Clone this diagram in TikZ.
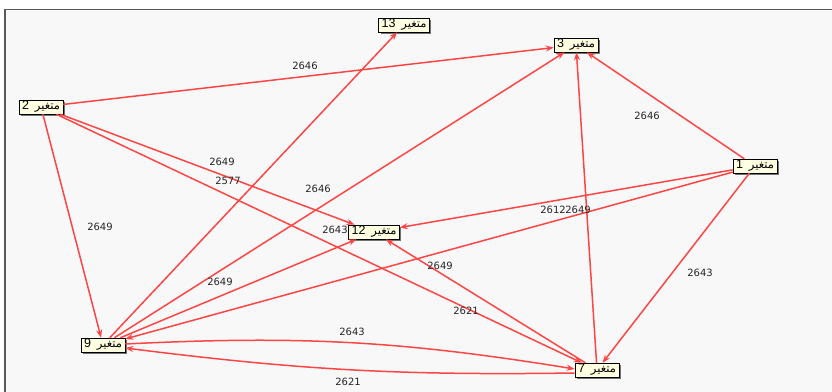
\documentclass[tikz,border=0pt]{standalone}
\usepackage{fontspec}
\usetikzlibrary{arrows.meta}
\usetikzlibrary{shadows}
\setmainfont{Liberation Sans}
\newfontfamily\arabicfont[Script=Arabic]{DejaVu Sans}
\newfontfamily\labelfont{DejaVu Sans}
\TeXXeTstate=1
\definecolor{linkred}{RGB}{252,70,70}
\definecolor{boxfill}{RGB}{255,255,225}
\definecolor{framebg}{RGB}{248,248,248}
\newcommand{\var}[1]{{\fontsize{12.5}{12}\selectfont #1}\hspace{6pt}{\arabicfont\fontsize{11.5}{11}\selectfont\beginR متغير\endR}}

\begin{document}
\begin{tikzpicture}[x=1pt,y=1pt,
    var/.style={draw=black,line width=0.6pt,fill=boxfill,inner xsep=3pt,inner ysep=1.2pt,
      drop shadow={shadow xshift=2pt,shadow yshift=-2pt,fill=black!55,opacity=1}},
    link/.style={draw=linkred,line width=1.5pt,-{Stealth[length=8pt,width=6pt]}},
    lbl/.style={font=\labelfont\fontsize{10}{10}\selectfont,text=black!85,inner sep=1pt}]
      \clip (0,0) rectangle (832,391);
      \fill[white] (0,0) rectangle (832,391);
      \draw[black!65,line width=1.2pt,fill=framebg] (5,-10) rectangle (845,381.5);

      \node[var] (n13) at (404,366) {\var{13}};
      \node[var] (n3) at (576,346) {\var{3}};
      \node[var] (n2) at (41,284) {\var{2}};
      \node[var] (n1) at (755,225) {\var{1}};
      \node[var] (n12) at (374,159) {\var{12}};
      \node[var] (n9) at (103,46) {\var{9}};
      \node[var] (n7) at (597,21) {\var{7}};

      \draw[link] (n2) -- (n3);
      \draw[link] (n2) -- (n9);
      \draw[link] (n2) -- (n12);
      \draw[link] (n2) -- (n7);
      \draw[link] (n9) -- (n13);
      \draw[link] (n9) -- (n3);
      \draw[link] (n9) -- (n12);
      \draw[link] (n1) -- (n3);
      \draw[link] (n1) -- (n12);
      \draw[link] (n1) -- (n9);
      \draw[link] (n1) -- (n7);
      \draw[link] (n7) -- (n3);
      \draw[link] (n7) -- (n12);
      \draw[link] ([yshift=1pt]n9.east) to[bend left=6] ([yshift=1pt]n7.west);
      \draw[link] ([yshift=-3pt]n7.west) to[bend left=4] ([yshift=-3pt]n9.east);

      \node[lbl] (l23) at (305,325) {2646};
      \node[lbl] (l13) at (647,275) {2646};
      \node[lbl] (l29) at (100,164) {2649};
      \node[lbl] (l212) at (222,229) {2649};
      \node[lbl] (l27) at (335,161) {2643};
      \node[lbl] (l913) at (228,210) {2577};
      \node[lbl] (l93) at (318,202) {2646};
      \node[lbl] (l912) at (220,109) {2649};
      \node[lbl] (l112) at (553,181) {2612};
      \node[lbl] (l19) at (440,125) {2649};
      \node[lbl] (l17) at (700,118) {2643};
      \node[lbl] (l73) at (578,181) {2649};
      \node[lbl] (l712) at (466,80) {2621};
      \node[lbl] (l97) at (352,59) {2643};
      \node[lbl] (l79) at (348,9) {2621};
\end{tikzpicture}
\end{document}
